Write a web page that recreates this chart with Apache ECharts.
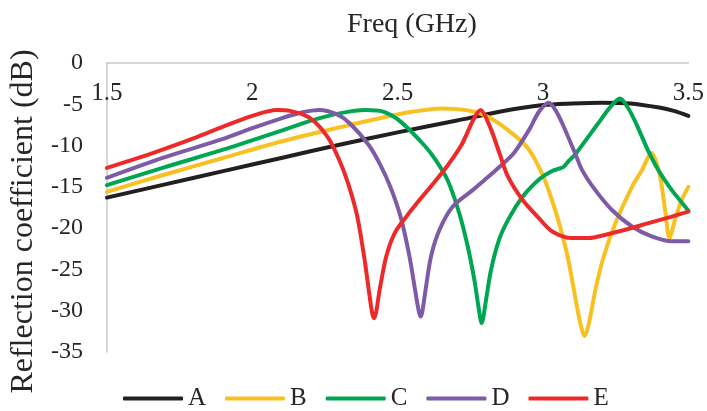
<!DOCTYPE html>
<html>
<head>
<meta charset="utf-8">
<script src="https://cdn.jsdelivr.net/npm/echarts@6/dist/echarts.min.js"></script>
<style>html,body{margin:0;padding:0;background:#fff}#c{width:707px;height:411px}</style>
</head>
<body>
<div id="c"></div>
<script>
const seriesNames = ['A', 'B', 'C', 'D', 'E'];
const xTicks = [1.5, 2, 2.5, 3, 3.5];
const yTicks = [0, -5, -10, -15, -20, -25, -30, -35];

const freqA = [1.5,1.7,1.9,2.1,2.3,2.5,2.7,2.85,3.0,3.1,3.2,3.3,3.4,3.45,3.5];
const valsA = [-16.3,-14.7,-13.1,-11.5,-9.9,-8.4,-7.0,-5.9,-5.1,-4.9,-4.8,-4.9,-5.4,-5.8,-6.4];

const freqB = [1.5,1.7,1.9,2.1,2.3,2.45,2.55,2.65,2.75,2.82,2.9,2.95,2.998,3.03,3.06,3.085,3.108,3.128,3.143,3.158,3.18,3.209,3.249,3.306,3.34,3.373,3.40,3.42,3.435,3.454,3.477,3.5];
const valsB = [-15.6,-13.5,-11.5,-9.5,-7.8,-6.6,-5.9,-5.5,-5.8,-6.7,-8.7,-10.4,-13.5,-16.5,-20.0,-23.5,-27.8,-31.5,-33.1,-31.5,-27.5,-23.4,-19.4,-15.0,-13.0,-10.9,-13.3,-17.8,-21.2,-19.0,-16.6,-15.0];

const freqC = [1.5,1.7,1.9,2.1,2.2,2.3,2.39,2.45,2.51,2.59,2.63,2.672,2.712,2.741,2.764,2.778,2.789,2.804,2.821,2.849,2.88,2.93,2.99,3.03,3.055,3.07,3.09,3.11,3.19,3.23,3.265,3.29,3.32,3.36,3.397,3.443,3.489,3.5];
const valsC = [-14.8,-12.6,-10.5,-8.2,-7.0,-6.1,-5.7,-5.9,-7.1,-9.9,-11.7,-14.2,-18.2,-22.2,-26.3,-29.5,-31.5,-28.7,-25.1,-21.4,-19.0,-16.2,-14.0,-13.1,-12.8,-12.6,-11.8,-11.1,-7.3,-5.4,-4.3,-5.3,-7.3,-10.5,-13.0,-15.4,-17.4,-17.9];

const freqD = [1.5,1.7,1.9,2.0,2.1,2.17,2.23,2.29,2.335,2.40,2.44,2.475,2.51,2.54,2.562,2.573,2.579,2.585,2.596,2.615,2.644,2.689,2.758,2.798,2.85,2.90,2.952,2.986,3.02,3.043,3.066,3.11,3.135,3.18,3.237,3.306,3.374,3.443,3.5];
const valsD = [-13.9,-11.4,-9.2,-7.9,-6.7,-6.0,-5.7,-6.2,-7.3,-9.9,-12.3,-15.0,-18.6,-23.3,-27.9,-30.1,-30.7,-30.1,-27.5,-23.4,-20.2,-17.4,-15.4,-14.2,-12.6,-10.9,-8.1,-5.9,-4.8,-5.7,-7.3,-10.9,-13.0,-15.4,-17.8,-19.8,-21.0,-21.6,-21.6];

const freqE = [1.5,1.65,1.8,1.9,2.0,2.085,2.13,2.20,2.26,2.30,2.33,2.36,2.385,2.40,2.412,2.419,2.426,2.438,2.461,2.49,2.53,2.575,2.627,2.67,2.72,2.76,2.785,2.815,2.85,2.88,2.93,2.986,3.032,3.10,3.158,3.215,3.283,3.363,3.443,3.5];
const valsE = [-12.7,-11.0,-9.1,-7.7,-6.4,-5.7,-5.8,-6.7,-9.0,-11.8,-14.6,-18.4,-23.5,-27.3,-30.2,-30.9,-30.2,-27.5,-23.4,-20.6,-18.6,-16.6,-14.4,-12.5,-9.9,-6.9,-5.7,-7.5,-10.9,-13.8,-16.6,-18.8,-20.4,-21.2,-21.2,-20.8,-20.2,-19.4,-18.6,-18.0];

const colors = ['#231f20', '#f8c021', '#00a651', '#7d5ba6', '#ed2a2a'];

const freqs = [freqA, freqB, freqC, freqD, freqE];
const vals = [valsA, valsB, valsC, valsD, valsE];

const font = '"Liberation Serif", "Times New Roman", serif';
const chart = echarts.init(document.getElementById('c'), null, {renderer: 'canvas'});
chart.setOption({
  animation: false,
  backgroundColor: '#fff',
  title: {
    text: 'Freq (GHz)', left: 342, top: 6,
    textStyle: {fontFamily: font, fontSize: 28, fontWeight: 'normal', color: '#262626'}
  },
  legend: {
    data: seriesNames, left: 118, top: 381, icon: 'roundRect',
    itemWidth: 60, itemHeight: 4, itemGap: 19,
    textStyle: {fontFamily: font, fontSize: 25, color: '#262626'}
  },
  grid: {left: 106, right: 17, top: 63, bottom: 59, containLabel: false},
  xAxis: {
    type: 'value', min: 1.5, max: 3.5, interval: 0.5, position: 'top',
    axisLine: {show: true, onZero: false, lineStyle: {color: '#c8c8c8', width: 1.5}},
    axisTick: {show: false}, splitLine: {show: false},
    axisLabel: {inside: true, margin: 18, fontFamily: font, fontSize: 25, color: '#262626',
      showMinLabel: true, showMaxLabel: true,
      formatter: v => (xTicks.includes(v) ? String(v) : '')}
  },
  yAxis: {
    type: 'value', min: -35, max: 0, interval: 5,
    name: 'Reflection coefficient (dB)', nameLocation: 'middle', nameGap: 62, nameRotate: 90,
    nameTextStyle: {fontFamily: font, fontSize: 32, color: '#262626', padding: [0, 28, 0, 0]},
    axisLine: {show: true, lineStyle: {color: '#c8c8c8', width: 1.5}},
    axisTick: {show: false}, splitLine: {show: false},
    axisLabel: {margin: 24, fontFamily: font, fontSize: 24, color: '#262626',
      formatter: v => (yTicks.includes(v) ? String(v) : '')}
  },
  series: seriesNames.map((n, i) => ({
    name: n, type: 'line', smooth: 0.3, symbol: 'none', showSymbol: false,
    lineStyle: {color: colors[i], width: 4, cap: 'round', join: 'round'},
    itemStyle: {color: colors[i]},
    data: freqs[i].map((f, j) => [f, vals[i][j]])
  }))
});
</script>
</body>
</html>
